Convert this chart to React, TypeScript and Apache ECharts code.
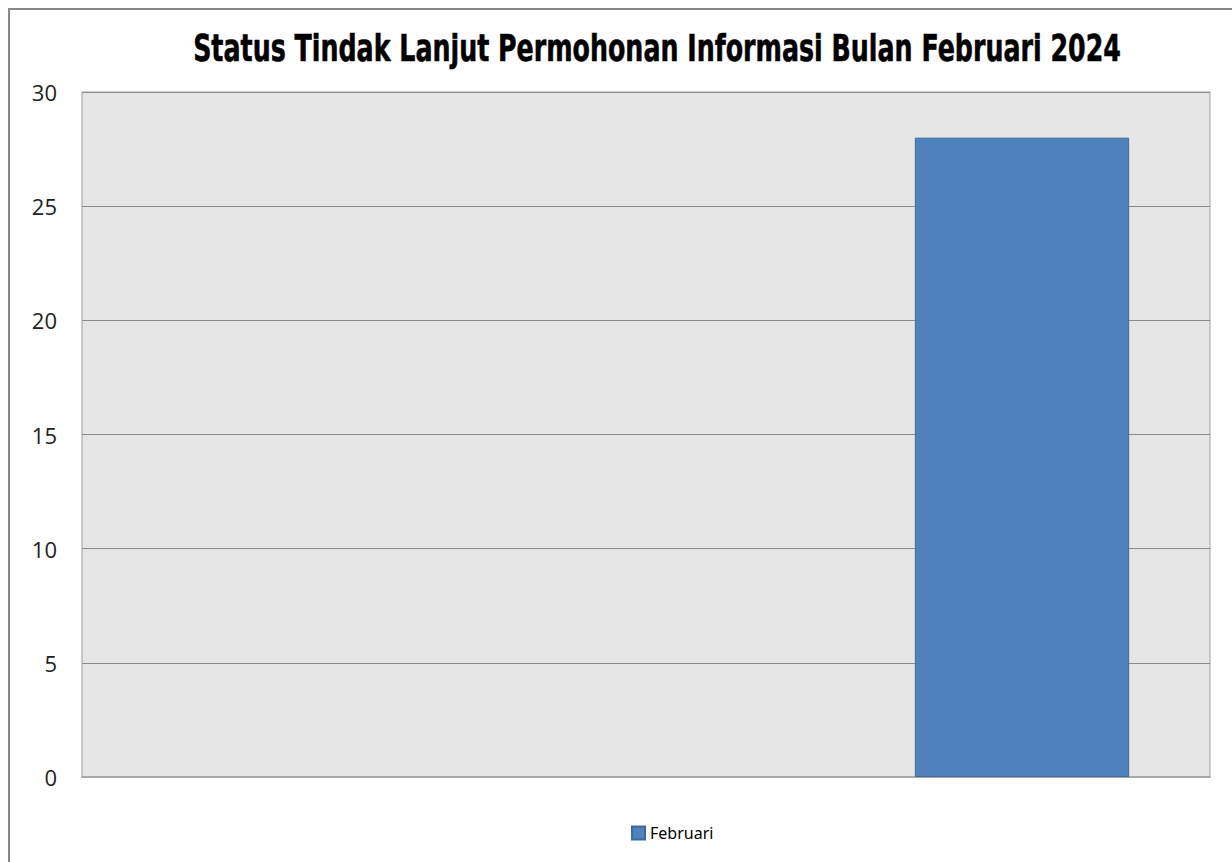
import React, { useEffect, useRef } from "react";
import * as echarts from "echarts";

const categories = ["", "", ""];
const februari = ["-", "-", 28];
const yTicks = [0, 5, 10, 15, 20, 25, 30];
const titleText = "Status Tindak Lanjut Permohonan Informasi Bulan Februari 2024";
const seriesName = "Februari";

export default function App() {
  const ref = useRef<HTMLDivElement>(null);
  useEffect(() => {
    if (!ref.current) return;
    const titleFont = 'bold 37px "DejaVu Sans"';
    let scaleX = 0.62;
    try {
      const ctx = document.createElement("canvas").getContext("2d");
      if (ctx) {
        ctx.font = titleFont;
        const w = ctx.measureText(titleText).width;
        if (w > 0) scaleX = 928 / w;
      }
    } catch (e) {}
    const chart = echarts.init(ref.current, null, { renderer: "svg" });
    chart.setOption({
      animation: false,
      backgroundColor: "#ffffff",
      graphic: [
        {
          type: "rect",
          shape: { x: 9, y: 9, width: 1300, height: 900 },
          style: { fill: "none", stroke: "#888", lineWidth: 2 },
          silent: true,
          z: -1,
        },
        {
          type: "text",
          x: 657,
          y: 48,
          scaleX: scaleX,
          silent: true,
          style: {
            text: titleText,
            font: titleFont,
            fill: "#000",
            stroke: "#000",
            lineWidth: 0.6,
            textAlign: "center",
            textVerticalAlign: "middle",
          },
        },
      ],
      legend: {
        data: [seriesName],
        top: 820,
        left: 626,
        itemWidth: 13,
        itemHeight: 13,
        itemGap: 6,
        icon: "rect",
        textStyle: { fontFamily: "Noto Sans", fontSize: 16, color: "#000" },
      },
      grid: {
        left: 82,
        top: 92,
        right: 22,
        bottom: 85,
        show: true,
        backgroundColor: "#e6e6e6",
        borderColor: "#a0a0a0",
        borderWidth: 1,
      },
      xAxis: {
        type: "category",
        data: categories,
        axisLine: { show: true, lineStyle: { color: "#a8a8a8", width: 2 } },
        axisTick: { show: false },
        axisLabel: { show: false },
      },
      yAxis: {
        type: "value",
        min: yTicks[0],
        max: yTicks[yTicks.length - 1],
        interval: 5,
        axisLine: { show: false },
        axisTick: { show: false },
        axisLabel: {
          fontFamily: "Open Sans",
          fontSize: 22,
          color: "#222",
          margin: 25,
        },
        splitLine: { show: true, lineStyle: { color: "#8c8c8c", width: 1 } },
      },
      series: [
        {
          name: seriesName,
          type: "bar",
          data: februari,
          barCategoryGap: "43%",
          itemStyle: { color: "#4f81bd", borderColor: "#3e6a9e", borderWidth: 1 },
        },
      ],
    });
    return () => chart.dispose();
  }, []);
  return (
    <div
      ref={ref}
      style={{ position: "absolute", left: 0, top: 0, width: 1232, height: 862 }}
    />
  );
}
